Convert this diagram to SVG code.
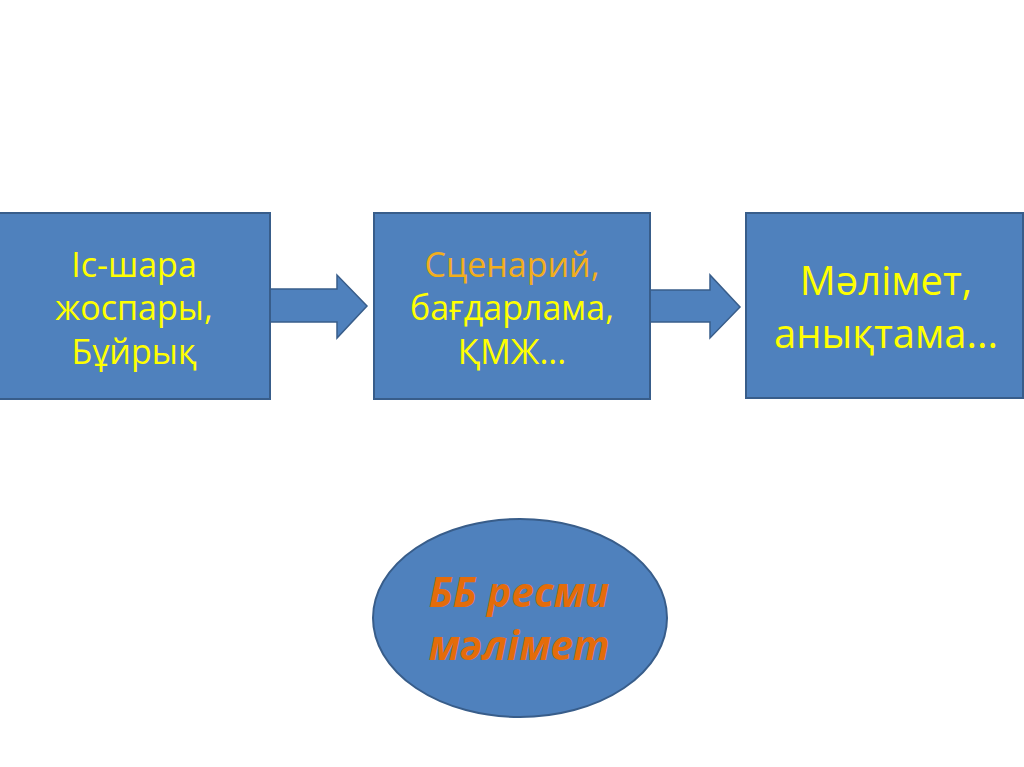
<svg xmlns="http://www.w3.org/2000/svg" width="1024" height="767" viewBox="0 0 1024 767">
<style>
.box{fill:#4F81BD;stroke:#385D8A;stroke-width:2}
.arr{fill:#4F81BD;stroke:#385D8A;stroke-width:1.5}
.t{font-family:"Open Sans","Noto Sans",sans-serif;fill:#FFFF00;text-anchor:middle}
.s{font-size:34px}
.l{font-size:40px}
.o{fill:#F2AE1C}
.e{font-family:"Open Sans","Noto Sans",sans-serif;fill:#E46C0A;font-weight:bold;font-style:italic;text-anchor:middle;font-size:40.5px}
</style>
<rect width="1024" height="767" fill="#FFFFFF"/>
<g id="connectors">
<path class="arr" d="M270,289 H337 V275 L367,306 L337,338 V322 H270 Z"/>
<path class="arr" d="M650,290 H710 V275 L740,307 L710,338 V322 H650 Z"/>
</g>
<g id="node1">
<rect class="box" x="-2" y="213" width="272" height="186"/>
<text class="t s" x="134" y="277">Іс-шара</text>
<text class="t s" x="134" y="320">жоспары,</text>
<text class="t s" x="134" y="364">Бұйрық</text>
</g>
<g id="node2">
<rect class="box" x="374" y="213" width="276" height="186"/>
<text class="t s o" x="512" y="277">Сценарий,</text>
<text class="t s" x="512" y="320">бағдарлама,</text>
<text class="t s" x="512" y="364">ҚМЖ...</text>
</g>
<g id="node3">
<rect class="box" x="746" y="213" width="277" height="185"/>
<text class="t l" x="886" y="295">Мәлімет,</text>
<text class="t l" x="886" y="348">анықтама...</text>
</g>
<g id="node4">
<ellipse class="box" cx="520" cy="618" rx="147" ry="99"/>
<text class="e" x="519" y="607">ББ ресми</text>
<text class="e" x="519" y="660">мәлімет</text>
</g>
</svg>
